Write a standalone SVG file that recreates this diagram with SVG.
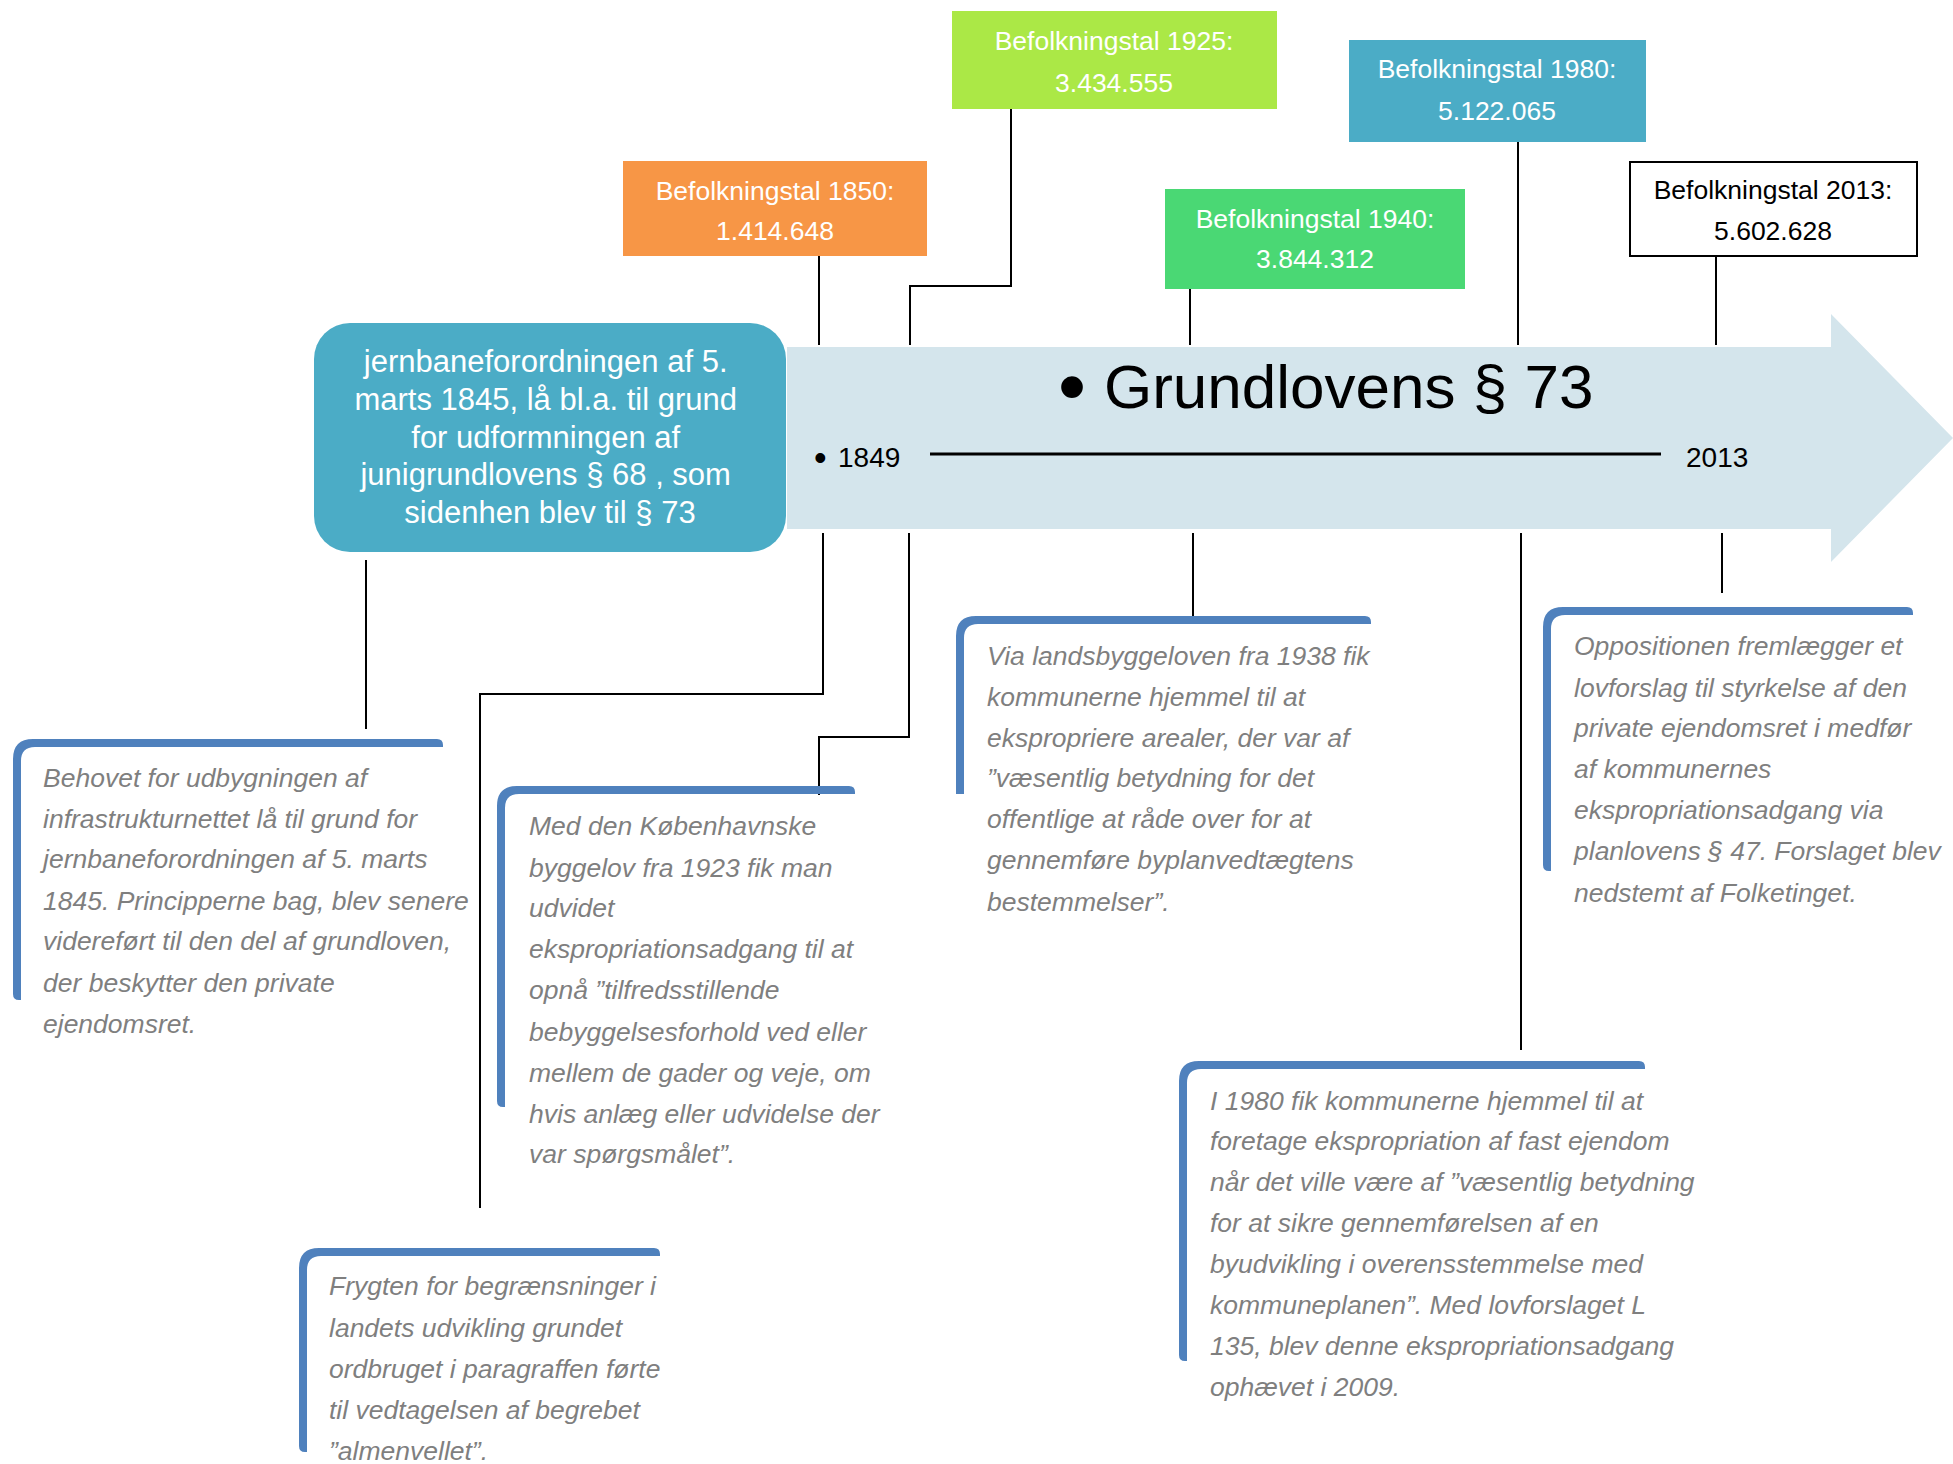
<svg xmlns="http://www.w3.org/2000/svg" width="1953" height="1464" viewBox="0 0 1953 1464">
<style>
.t{font-family:"Liberation Sans",Arial,sans-serif}
.box{font-family:"Liberation Sans",Arial,sans-serif;font-size:26.5px;text-anchor:middle;fill:#fff}
.call{font-family:"Liberation Sans",Arial,sans-serif;font-size:26.5px;font-style:italic;fill:#7f7f7f}
.bar{fill:#4f81bd}
.con{fill:none;stroke:#000;stroke-width:2}
</style>
<rect width="1953" height="1464" fill="#fff"/>

<g id="connectors">
<path class="con" d="M819,256V345"/>
<path class="con" d="M1011,109V286H910V345"/>
<path class="con" d="M1190,289V345"/>
<path class="con" d="M1518,142V345"/>
<path class="con" d="M1716,256V345"/>
<path class="con" d="M823,533V694H480V1208"/>
<path class="con" d="M909,533V737H819V795"/>
<path class="con" d="M1193,533V616"/>
<path class="con" d="M1521,533V1050"/>
<path class="con" d="M1722,533V593"/>
<path class="con" d="M366,560V729"/>
</g>

<g id="timeline-arrow">
<path d="M787,347H1831V314L1953,438L1831,562V529H787Z" fill="#d4e5ec"/>
<text class="t" x="1058" y="414" font-size="80">•</text>
<text class="t" x="1104" y="408" font-size="62" fill="#000">Grundlovens § 73</text>
<text class="t" x="814" y="470" font-size="36">•</text>
<text class="t" x="838" y="467" font-size="28" fill="#000">1849</text>
<line x1="930" y1="454" x2="1661" y2="454" stroke="#000" stroke-width="3"/>
<text class="t" x="1686" y="467" font-size="28" fill="#000">2013</text>
</g>

<g id="main-node">
<rect x="314" y="323" width="472" height="229" rx="36" fill="#4bacc6"/>
<text class="t" font-size="31" fill="#fff" text-anchor="middle">
<tspan x="550" y="372">jernbaneforordningen af 5.</tspan>
<tspan x="550" y="410">marts 1845, lå bl.a. til grund</tspan>
<tspan x="550" y="448">for udformningen af</tspan>
<tspan x="550" y="485">junigrundlovens § 68 , som</tspan>
<tspan x="550" y="523">sidenhen blev til § 73</tspan>
</text>
</g>

<g id="pop1850">
<rect x="623" y="161" width="304" height="95" fill="#f79646"/>
<text class="box"><tspan x="775" y="200">Befolkningstal 1850:</tspan><tspan x="775" y="240">1.414.648</tspan></text>
</g>
<g id="pop1925">
<rect x="952" y="11" width="325" height="98" fill="#abe846"/>
<text class="box"><tspan x="1114" y="50">Befolkningstal 1925:</tspan><tspan x="1114" y="92">3.434.555</tspan></text>
</g>
<g id="pop1940">
<rect x="1165" y="189" width="300" height="100" fill="#4ad874"/>
<text class="box"><tspan x="1315" y="228">Befolkningstal 1940:</tspan><tspan x="1315" y="268">3.844.312</tspan></text>
</g>
<g id="pop1980">
<rect x="1349" y="40" width="297" height="102" fill="#4bacc6"/>
<text class="box"><tspan x="1497" y="78">Befolkningstal 1980:</tspan><tspan x="1497" y="120">5.122.065</tspan></text>
</g>
<g id="pop2013">
<rect x="1630" y="162" width="287" height="94" fill="#fff" stroke="#000" stroke-width="2"/>
<text class="box" style="fill:#000"><tspan x="1773" y="199">Befolkningstal 2013:</tspan><tspan x="1773" y="240">5.602.628</tspan></text>
</g>

<g id="note-behovet">
<path class="bar" d="M13,994V759Q13,739 33,739H437Q443,739 443,745V747H35Q21,747 21,761V1000H19Q13,1000 13,994Z"/>
<text class="call">
<tspan x="43" y="787">Behovet for udbygningen af</tspan>
<tspan x="43" y="828">infrastrukturnettet lå til grund for</tspan>
<tspan x="43" y="868">jernbaneforordningen af 5. marts</tspan>
<tspan x="43" y="910">1845. Principperne bag, blev senere</tspan>
<tspan x="43" y="950">videreført til den del af grundloven,</tspan>
<tspan x="43" y="992">der beskytter den private</tspan>
<tspan x="43" y="1033">ejendomsret.</tspan>
</text>
</g>

<g id="note-koebenhavn">
<path class="bar" d="M497,1101V806Q497,786 517,786H849Q855,786 855,792V794H519Q505,794 505,808V1107H503Q497,1107 497,1101Z"/>
<text class="call">
<tspan x="529" y="835">Med den Københavnske</tspan>
<tspan x="529" y="877">byggelov fra 1923 fik man</tspan>
<tspan x="529" y="917">udvidet</tspan>
<tspan x="529" y="958">ekspropriationsadgang til at</tspan>
<tspan x="529" y="999">opnå ”tilfredsstillende</tspan>
<tspan x="529" y="1041">bebyggelsesforhold ved eller</tspan>
<tspan x="529" y="1082">mellem de gader og veje, om</tspan>
<tspan x="529" y="1123">hvis anlæg eller udvidelse der</tspan>
<tspan x="529" y="1163">var spørgsmålet”.</tspan>
</text>
</g>

<g id="note-landsbyggeloven">
<path class="bar" d="M956,794V636Q956,616 976,616H1365Q1371,616 1371,622V624H978Q964,624 964,638V794Z"/>
<text class="call">
<tspan x="987" y="665">Via landsbyggeloven fra 1938 fik</tspan>
<tspan x="987" y="706">kommunerne hjemmel til at</tspan>
<tspan x="987" y="747">ekspropriere arealer, der var af</tspan>
<tspan x="987" y="787">”væsentlig betydning for det</tspan>
<tspan x="987" y="828">offentlige at råde over for at</tspan>
<tspan x="987" y="869">gennemføre byplanvedtægtens</tspan>
<tspan x="987" y="911">bestemmelser”.</tspan>
</text>
</g>

<g id="note-oppositionen">
<path class="bar" d="M1543,865V627Q1543,607 1563,607H1907Q1913,607 1913,613V615H1565Q1551,615 1551,629V871H1549Q1543,871 1543,865Z"/>
<text class="call">
<tspan x="1574" y="655">Oppositionen fremlægger et</tspan>
<tspan x="1574" y="697">lovforslag til styrkelse af den</tspan>
<tspan x="1574" y="737">private ejendomsret i medfør</tspan>
<tspan x="1574" y="778">af kommunernes</tspan>
<tspan x="1574" y="819">ekspropriationsadgang via</tspan>
<tspan x="1574" y="860">planlovens § 47. Forslaget blev</tspan>
<tspan x="1574" y="902">nedstemt af Folketinget.</tspan>
</text>
</g>

<g id="note-1980">
<path class="bar" d="M1179,1355V1081Q1179,1061 1199,1061H1639Q1645,1061 1645,1067V1069H1201Q1187,1069 1187,1083V1361H1185Q1179,1361 1179,1355Z"/>
<text class="call">
<tspan x="1210" y="1110">I 1980 fik kommunerne hjemmel til at</tspan>
<tspan x="1210" y="1150">foretage ekspropriation af fast ejendom</tspan>
<tspan x="1210" y="1191">når det ville være af ”væsentlig betydning</tspan>
<tspan x="1210" y="1232">for at sikre gennemførelsen af en</tspan>
<tspan x="1210" y="1273">byudvikling i overensstemmelse med</tspan>
<tspan x="1210" y="1314">kommuneplanen”. Med lovforslaget L</tspan>
<tspan x="1210" y="1355">135, blev denne ekspropriationsadgang</tspan>
<tspan x="1210" y="1396">ophævet i 2009.</tspan>
</text>
</g>

<g id="note-frygten">
<path class="bar" d="M299,1446V1268Q299,1248 319,1248H654Q660,1248 660,1254V1256H321Q307,1256 307,1270V1452H305Q299,1452 299,1446Z"/>
<text class="call">
<tspan x="329" y="1295">Frygten for begrænsninger i</tspan>
<tspan x="329" y="1337">landets udvikling grundet</tspan>
<tspan x="329" y="1378">ordbruget i paragraffen førte</tspan>
<tspan x="329" y="1419">til vedtagelsen af begrebet</tspan>
<tspan x="329" y="1460">”almenvellet”.</tspan>
</text>
</g>
</svg>
